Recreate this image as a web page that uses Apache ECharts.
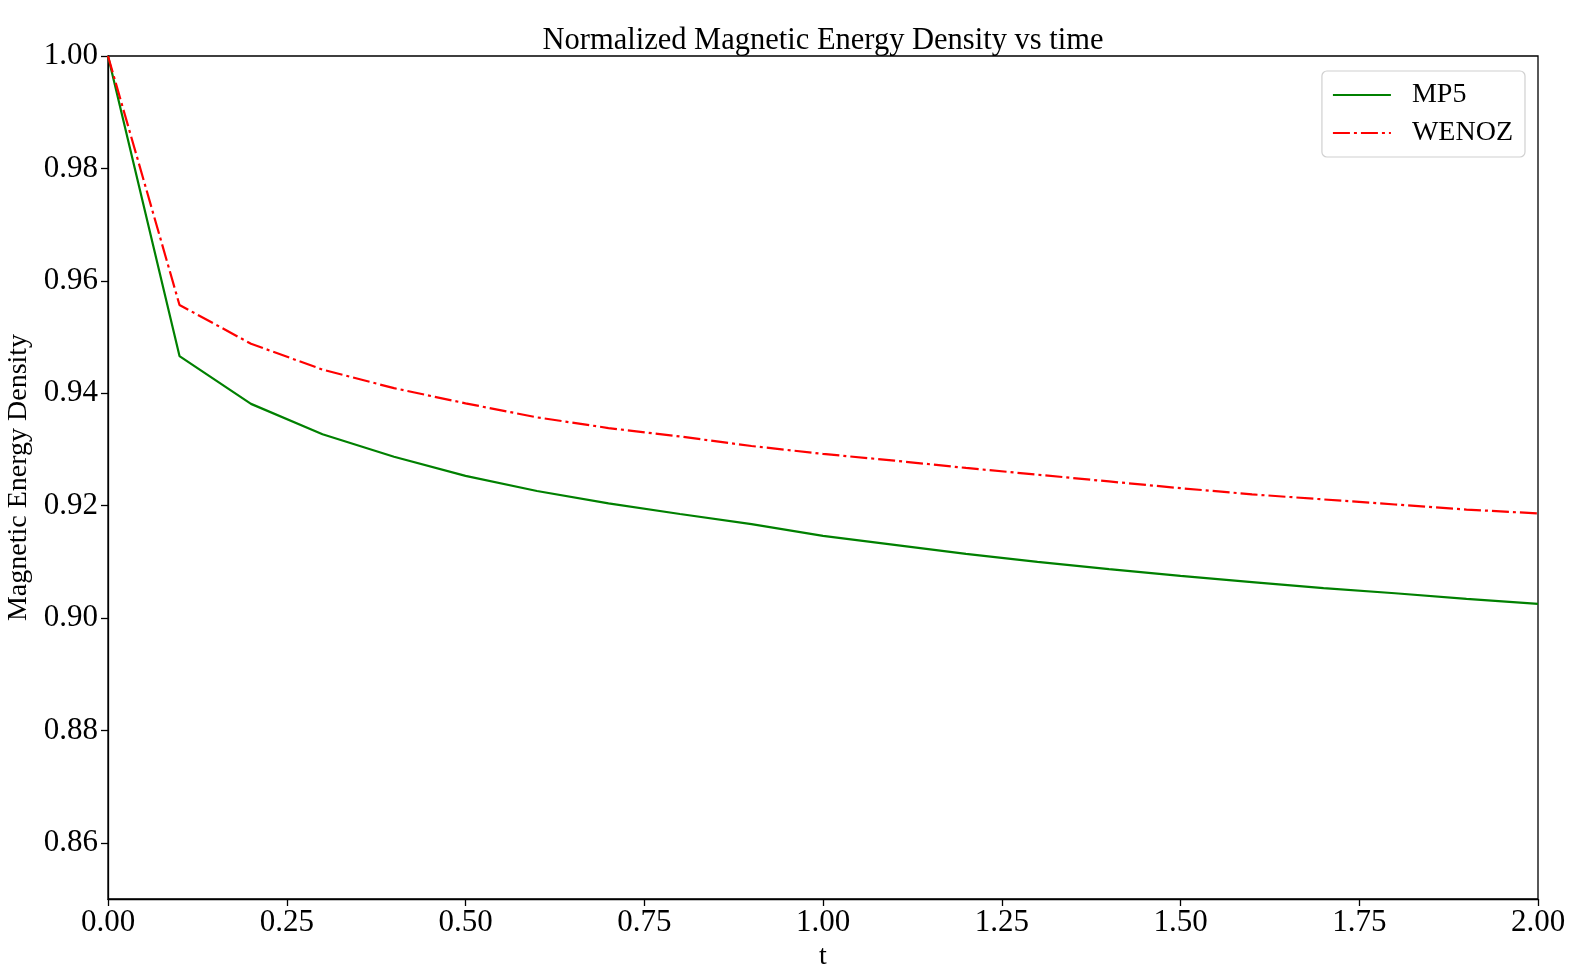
<!DOCTYPE html>
<html lang="en">
<head>
  <meta charset="UTF-8">
  <title>Normalized Magnetic Energy Density vs time</title>
  <style>
    html, body { margin: 0; padding: 0; background: #fff; }
    #chart { width: 1589px; height: 975px; }
  </style>
</head>
<body>
  <div id="chart"></div>
  <script src="https://cdn.jsdelivr.net/npm/echarts@6/dist/echarts.min.js"></script>
  <script>
// data
const tValues = [0.0, 0.1, 0.2, 0.3, 0.4, 0.5, 0.6, 0.7, 0.8, 0.9, 1.0,
                 1.1, 1.2, 1.3, 1.4, 1.5, 1.6, 1.7, 1.8, 1.9, 2.0];
const mp5 = [1.0000, 0.9466, 0.9381, 0.9327, 0.9287, 0.9253, 0.9226, 0.9204, 0.9185, 0.9167, 0.9146,
             0.9130, 0.9114, 0.9100, 0.9087, 0.9075, 0.9064, 0.9053, 0.9044, 0.9034, 0.9025];
const wenoz = [1.0000, 0.9557, 0.9488, 0.9442, 0.9409, 0.9382, 0.9357, 0.9338, 0.9323, 0.9306, 0.9292,
               0.9280, 0.9267, 0.9255, 0.9243, 0.9231, 0.9220, 0.9211, 0.9202, 0.9193, 0.9186];
const yTicks = [0.86, 0.88, 0.90, 0.92, 0.94, 0.96, 0.98, 1.00];

const font = 'Liberation Serif';
const chart = echarts.init(document.getElementById('chart'));

function pairs(ys) {
  return tValues.map((t, i) => [t, ys[i]]);
}

chart.setOption({
  animation: false,
  backgroundColor: '#fff',
  title: {
    text: 'Normalized Magnetic Energy Density vs time',
    left: 818, top: 20, textAlign: 'center',
    textStyle: { fontFamily: font, fontSize: 30.5, fontWeight: 'normal', color: '#000' }
  },
  legend: {
    right: 64, top: 71,
    orient: 'vertical',
    itemWidth: 58, itemHeight: 14, itemGap: 10,
    padding: [10, 12, 10, 10],
    borderColor: '#d0d0d0', borderWidth: 1.2, borderRadius: 5,
    backgroundColor: '#fff',
    itemStyle: { opacity: 0 },
    textStyle: { fontFamily: font, fontSize: 28, color: '#000', padding: [0, 0, 0, 16] },
    data: ['MP5', 'WENOZ']
  },
  grid: {
    left: 108, right: 51, top: 56, bottom: 76,
    outerBoundsMode: 'none',
    show: true, borderColor: '#000', borderWidth: 1.3
  },
  xAxis: {
    type: 'value',
    min: 0, max: 2, interval: 0.25,
    name: 't', nameLocation: 'middle', nameGap: 42,
    nameTextStyle: { fontFamily: font, fontSize: 28, color: '#000' },
    axisLine: { show: true, lineStyle: { color: '#000', width: 1.3 } },
    axisTick: { show: true, inside: false, length: 7, lineStyle: { color: '#000', width: 1.3 } },
    axisLabel: {
      fontFamily: font, fontSize: 31, color: '#000', margin: 8,
      formatter: v => v.toFixed(2)
    },
    splitLine: { show: false }
  },
  yAxis: {
    type: 'value',
    min: 0.85, max: 1.0,
    name: 'Magnetic Energy Density', nameLocation: 'middle', nameGap: 65,
    nameTextStyle: { fontFamily: font, fontSize: 28, color: '#000' },
    axisLine: { show: true, lineStyle: { color: '#000', width: 1.3 } },
    axisTick: { show: true, inside: false, length: 7, customValues: yTicks,
                lineStyle: { color: '#000', width: 1.3 } },
    axisLabel: {
      fontFamily: font, fontSize: 31, color: '#000', margin: 10, customValues: yTicks,
      formatter: v => v.toFixed(2)
    },
    splitLine: { show: false }
  },
  series: [
    {
      name: 'MP5', type: 'line', data: pairs(mp5),
      symbol: 'none', smooth: false,
      lineStyle: { color: '#008000', width: 2.2 },
      itemStyle: { color: '#008000' }
    },
    {
      name: 'WENOZ', type: 'line', data: pairs(wenoz),
      symbol: 'none', smooth: false,
      lineStyle: { color: '#ff0000', width: 2.2, type: [17, 4, 3, 4] },
      itemStyle: { color: '#ff0000' }
    }
  ]
});
  </script>
</body>
</html>
